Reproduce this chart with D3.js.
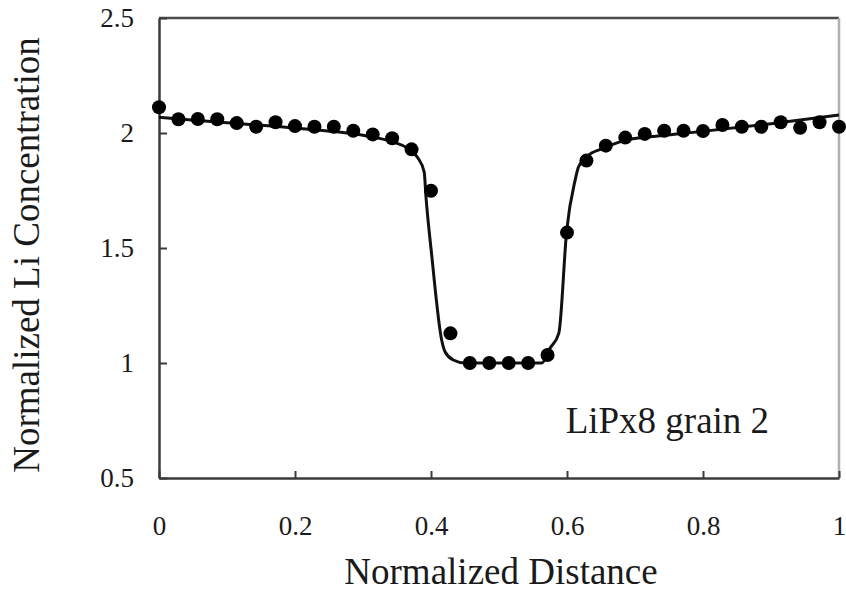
<!DOCTYPE html>
<html>
<head>
<meta charset="utf-8">
<script src="https://cdn.jsdelivr.net/npm/d3@7"></script>
<style>
    body { margin: 0; background: #ffffff; }
    #chart-area text { font-family: "Liberation Serif", "Times New Roman", serif; fill: #1a1a1a; }
</style>
</head>
<body>
<div id="chart-area"></div>
<script>

// measured points (x = i/35)
var pointX = [0, 0.0286, 0.0571, 0.0857, 0.1143, 0.1429, 0.1714, 0.2, 0.2286, 0.2571,
    0.2857, 0.3143, 0.3429, 0.3714, 0.4, 0.4286, 0.4571, 0.4857, 0.5143, 0.5429,
    0.5714, 0.6, 0.6286, 0.6571, 0.6857, 0.7143, 0.7429, 0.7714, 0.8, 0.8286,
    0.8571, 0.8857, 0.9143, 0.9429, 0.9714, 1];
var pointY = [2.112, 2.060, 2.061, 2.060, 2.043, 2.027, 2.047, 2.030, 2.027, 2.027,
    2.010, 1.994, 1.977, 1.929, 1.749, 1.129, 1.000, 1.000, 1.000, 1.000,
    1.035, 1.567, 1.880, 1.945, 1.980, 1.996, 2.010, 2.010, 2.009, 2.035,
    2.027, 2.027, 2.047, 2.023, 2.047, 2.027];

// fitted profile
var fitX = [0, 0.1, 0.207, 0.3, 0.32, 0.345, 0.365, 0.38, 0.39, 0.3926, 0.401, 0.4157,
    0.4206, 0.4328, 0.45, 0.5, 0.5628, 0.575, 0.588, 0.5996, 0.612, 0.617, 0.629,
    0.653, 0.688, 0.737, 0.796, 0.9, 1];
var fitY = [2.068, 2.045, 2.02, 1.99, 1.979, 1.96, 1.935, 1.895, 1.83, 1.723, 1.47, 1.10,
    1.049, 1.013, 1.0, 1.0, 1.0, 1.064, 1.13, 1.578, 1.796, 1.853, 1.897,
    1.933, 1.97, 1.988, 2.006, 2.04, 2.078];

var xTicks = [0, 0.2, 0.4, 0.6, 0.8, 1];
var yTicks = [0.5, 1, 1.5, 2, 2.5];
var sampleLabel = "LiPx8 grain 2";


ProfileVis = function(_parentElement){
    this.parentElement = _parentElement;
    this.initVis();
}

ProfileVis.prototype.initVis = function(){
    var vis = this;

    vis.margin = { top: 18, right: 7, bottom: 117, left: 159 };
    vis.width = 846 - vis.margin.left - vis.margin.right;
    vis.height = 595 - vis.margin.top - vis.margin.bottom;

    vis.svg = d3.select("#" + vis.parentElement).append("svg")
        .attr("width", 846)
        .attr("height", 595)
        .append("g")
        .attr("transform", "translate(" + vis.margin.left + "," + vis.margin.top + ")");

    vis.x = d3.scaleLinear().domain([0, 1]).range([0, vis.width]);
    vis.y = d3.scaleLinear().domain([0.5, 2.5]).range([vis.height, 0]);

    vis.xAxis = d3.axisBottom(vis.x)
        .tickValues(xTicks)
        .tickFormat(function(d){ return d; })
        .tickSizeInner(-7)
        .tickSizeOuter(0)
        .tickPadding(38);

    vis.yAxis = d3.axisLeft(vis.y)
        .tickValues(yTicks)
        .tickFormat(function(d){ return d; })
        .tickSizeInner(-8)
        .tickSizeOuter(0)
        .tickPadding(25);

    vis.wrangleData();
}

ProfileVis.prototype.wrangleData = function(){
    var vis = this;

    vis.points = pointX.map(function(d, i){ return { x: d, y: pointY[i] }; });
    vis.fit = fitX.map(function(d, i){ return { x: d, y: fitY[i] }; });

    vis.updateVis();
}

ProfileVis.prototype.updateVis = function(){
    var vis = this;

    // frame: top dark, right light grey
    vis.svg.append("line")
        .attr("x1", 0).attr("x2", vis.width)
        .attr("y1", 0).attr("y2", 0)
        .attr("stroke", "#4a4a4a").attr("stroke-width", 2.5);
    vis.svg.append("line")
        .attr("x1", vis.width).attr("x2", vis.width)
        .attr("y1", 0).attr("y2", vis.height)
        .attr("stroke", "#b0b0b0").attr("stroke-width", 2.5);

    var gx = vis.svg.append("g")
        .attr("class", "x-axis")
        .attr("transform", "translate(0," + vis.height + ")")
        .call(vis.xAxis);

    var gy = vis.svg.append("g")
        .attr("class", "y-axis")
        .call(vis.yAxis);

    [gx, gy].forEach(function(g){
        g.select(".domain").attr("stroke", "#3a3a3a").attr("stroke-width", 2.5);
        g.selectAll(".tick line").attr("stroke", "#3a3a3a").attr("stroke-width", 2);
        g.selectAll(".tick text").attr("font-size", 27).attr("fill", "#1a1a1a");
    });

    // fitted curve
    var line = d3.line()
        .x(function(d){ return vis.x(d.x); })
        .y(function(d){ return vis.y(d.y); })
        .curve(d3.curveMonotoneX);

    vis.svg.append("path")
        .datum(vis.fit)
        .attr("fill", "none")
        .attr("stroke", "#111")
        .attr("stroke-width", 3)
        .attr("d", line);

    // measured points
    vis.svg.selectAll("circle.pt")
        .data(vis.points)
        .enter().append("circle")
        .attr("class", "pt")
        .attr("cx", function(d){ return vis.x(d.x); })
        .attr("cy", function(d){ return vis.y(d.y); })
        .attr("r", 7)
        .attr("fill", "#000");

    // labels
    vis.svg.append("text")
        .attr("x", vis.width / 2 + 2)
        .attr("y", 566)
        .attr("text-anchor", "middle")
        .attr("font-size", 37)
        .text("Normalized Distance");

    vis.svg.append("text")
        .attr("transform", "translate(-120," + (vis.height / 2 + 7) + ") rotate(-90)")
        .attr("text-anchor", "middle")
        .attr("font-size", 37)
        .text("Normalized Li Concentration");

    vis.svg.append("text")
        .attr("x", vis.x(0.598))
        .attr("y", vis.y(0.8) + 24)
        .attr("font-size", 37)
        .text(sampleLabel);
}

var profileVis = new ProfileVis("chart-area");
</script>
</body>
</html>
